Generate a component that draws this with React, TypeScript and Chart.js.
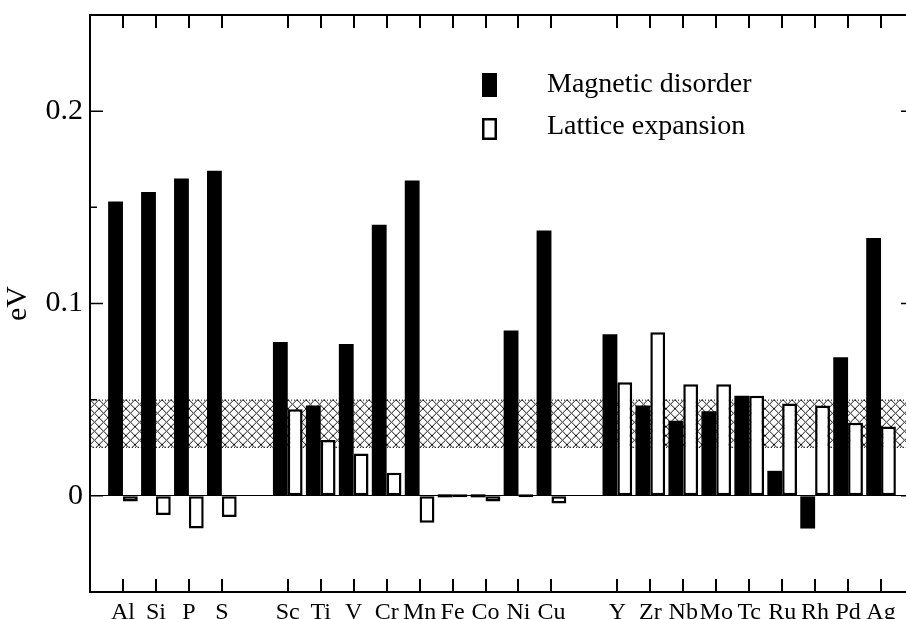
import React, { useEffect, useRef } from 'react';
import { Chart, registerables } from 'chart.js';

Chart.register(...registerables);

// Categories ('' = empty slot / axis edge)
const categories = ['', 'Al', 'Si', 'P', 'S', '', 'Sc', 'Ti', 'V', 'Cr', 'Mn', 'Fe', 'Co', 'Ni', 'Cu', '', 'Y', 'Zr', 'Nb', 'Mo', 'Tc', 'Ru', 'Rh', 'Pd', 'Ag', ''];

const magneticDisorder = [null, 0.153, 0.158, 0.165, 0.169, null, 0.080, 0.047, 0.079, 0.141, 0.164, 0, 0, 0.086, 0.138, null, 0.084, 0.047, 0.039, 0.044, 0.052, 0.013, -0.017, 0.072, 0.134, null];

const latticeExpansion = [null, -0.003, -0.010, -0.017, -0.011, null, 0.045, 0.029, 0.022, 0.012, -0.014, 0, -0.003, 0, -0.004, null, 0.059, 0.085, 0.058, 0.058, 0.052, 0.048, 0.047, 0.038, 0.036, null];

const seriesNames = ['Magnetic disorder', 'Lattice expansion'];

const yTickValues = [0, 0.1, 0.2];
const yTickLabels = ['0', '0.1', '0.2'];
const yMinorTicks = [0.05, 0.15];
const yRange = [-0.05, 0.25];
const bandRange = [0.025, 0.05];
const yTitle = 'eV';

const FONT = "'Liberation Serif', 'Times New Roman', serif";

export default function App() {
  const ref = useRef<HTMLCanvasElement | null>(null);

  useEffect(() => {
    const canvas = ref.current;
    if (!canvas) return;

    const framePlugin = {
      id: 'framePlugin',
      beforeDatasetsDraw(chart: any) {
        const { ctx, chartArea: a, scales } = chart;
        const y = scales.y;
        const yTop = y.getPixelForValue(bandRange[1]);
        const yBot = y.getPixelForValue(bandRange[0]);
        const P = 9;
        const tile = document.createElement('canvas');
        tile.width = P;
        tile.height = P;
        const t = tile.getContext('2d')!;
        t.strokeStyle = '#111';
        t.lineWidth = 1;
        t.beginPath();
        t.moveTo(0, 0);
        t.lineTo(P, P);
        t.moveTo(P, 0);
        t.lineTo(0, P);
        t.stroke();
        const pat = ctx.createPattern(tile, 'repeat');
        ctx.save();
        ctx.translate(a.left, yTop);
        ctx.fillStyle = pat;
        ctx.fillRect(0, 0, a.right - a.left, yBot - yTop);
        ctx.restore();
        ctx.save();
        ctx.strokeStyle = '#000';
        ctx.lineWidth = 1;
        ctx.setLineDash([1, 2]);
        ctx.beginPath();
        ctx.moveTo(a.left, yTop + 0.5);
        ctx.lineTo(a.right, yTop + 0.5);
        ctx.moveTo(a.left, yBot - 0.5);
        ctx.lineTo(a.right, yBot - 0.5);
        ctx.stroke();
        ctx.restore();
      },
      afterDatasetsDraw(chart: any) {
        const { ctx, chartArea: a, scales } = chart;
        const x = scales.x;
        const y = scales.y;
        ctx.save();
        ctx.strokeStyle = '#000';
        ctx.lineWidth = 2;
        ctx.strokeRect(a.left, a.top, a.right - a.left, a.bottom - a.top);
        // category ticks (inward) on bottom and top
        ctx.beginPath();
        categories.forEach((c, i) => {
          if (!c) return;
          const px = Math.round(x.getPixelForValue(i));
          ctx.moveTo(px, a.bottom);
          ctx.lineTo(px, a.bottom - 13);
          ctx.moveTo(px, a.top);
          ctx.lineTo(px, a.top + 13);
        });
        ctx.stroke();
        ctx.lineWidth = 1.5;
        ctx.beginPath();
        yTickValues.forEach((v) => {
          const py = y.getPixelForValue(v);
          ctx.moveTo(a.left, py);
          ctx.lineTo(a.left + 13, py);
          ctx.moveTo(a.right, py);
          ctx.lineTo(a.right - 13, py);
        });
        yMinorTicks.forEach((v) => {
          const py = y.getPixelForValue(v);
          ctx.moveTo(a.left, py);
          ctx.lineTo(a.left + 7, py);
          ctx.moveTo(a.right, py);
          ctx.lineTo(a.right - 7, py);
        });
        ctx.stroke();

        // legend
        const ds = chart.data.datasets;
        const boxX = 482;
        const boxW = 15;
        const textX = 547;
        ctx.fillStyle = '#000';
        ctx.fillRect(boxX, 73, boxW, 24);
        ctx.lineWidth = 2.5;
        ctx.strokeRect(boxX + 1.25, 119.25, boxW - 2.5, 19.5);
        ctx.font = `28px ${FONT}`;
        ctx.textBaseline = 'alphabetic';
        ctx.textAlign = 'left';
        ctx.fillText(ds[0].label, textX, 92);
        ctx.fillText(ds[1].label, textX, 134);
        ctx.restore();
      },
    };

    const chart = new Chart(canvas, {
      type: 'bar',
      data: {
        labels: categories,
        datasets: [
          {
            label: seriesNames[0],
            data: magneticDisorder as any,
            backgroundColor: '#000',
            borderWidth: 0,
            minBarLength: 3,
            categoryPercentage: 0.9,
            barPercentage: 1.0,
          },
          {
            label: seriesNames[1],
            data: latticeExpansion as any,
            backgroundColor: '#fff',
            borderColor: '#000',
            borderWidth: 2.5,
            borderSkipped: false,
            minBarLength: 3,
            categoryPercentage: 0.9,
            barPercentage: 1.0,
          },
        ],
      },
      options: {
        animation: false,
        responsive: false,
        maintainAspectRatio: false,
        layout: { padding: { top: 15, right: 16, left: 0, bottom: 0 } },
        plugins: {
          legend: { display: false },
          tooltip: { enabled: false },
        },
        scales: {
          x: {
            type: 'category',
            offset: false,
            grid: { display: false },
            border: { display: false },
            ticks: {
              autoSkip: false,
              maxRotation: 0,
              minRotation: 0,
              padding: -2,
              color: '#000',
              font: { family: FONT, size: 24 },
            },
            afterFit: (scale: any) => {
              scale.height = 27;
              scale.paddingLeft = 0;
              scale.paddingRight = 0;
            },
          },
          y: {
            min: yRange[0],
            max: yRange[1],
            border: { display: false },
            grid: {
              drawTicks: false,
              lineWidth: 1,
              color: (c: any) => (c.tick && c.tick.value === 0 ? '#000' : 'rgba(0,0,0,0)'),
            },
            afterBuildTicks: (scale: any) => {
              scale.ticks = yTickValues.map((v) => ({ value: v }));
            },
            ticks: {
              padding: 7,
              color: '#000',
              font: { family: FONT, size: 30 },
              callback: (v: any) => {
                const i = yTickValues.findIndex((t) => Math.abs(t - Number(v)) < 1e-9);
                return i >= 0 ? yTickLabels[i] : '';
              },
            },
            title: {
              display: true,
              text: yTitle,
              color: '#000',
              font: { family: FONT, size: 30 },
              padding: 0,
            },
            afterFit: (scale: any) => {
              scale.width = 90;
              scale.paddingTop = 0;
              scale.paddingBottom = 0;
            },
          },
        },
      },
      plugins: [framePlugin],
    });

    return () => chart.destroy();
  }, []);

  return (
    <div style={{ position: 'fixed', left: 0, top: 0, width: 906, height: 619, overflow: 'hidden', background: '#fff' }}>
      <canvas ref={ref} width={930} height={619} style={{ display: 'block' }} />
    </div>
  );
}
